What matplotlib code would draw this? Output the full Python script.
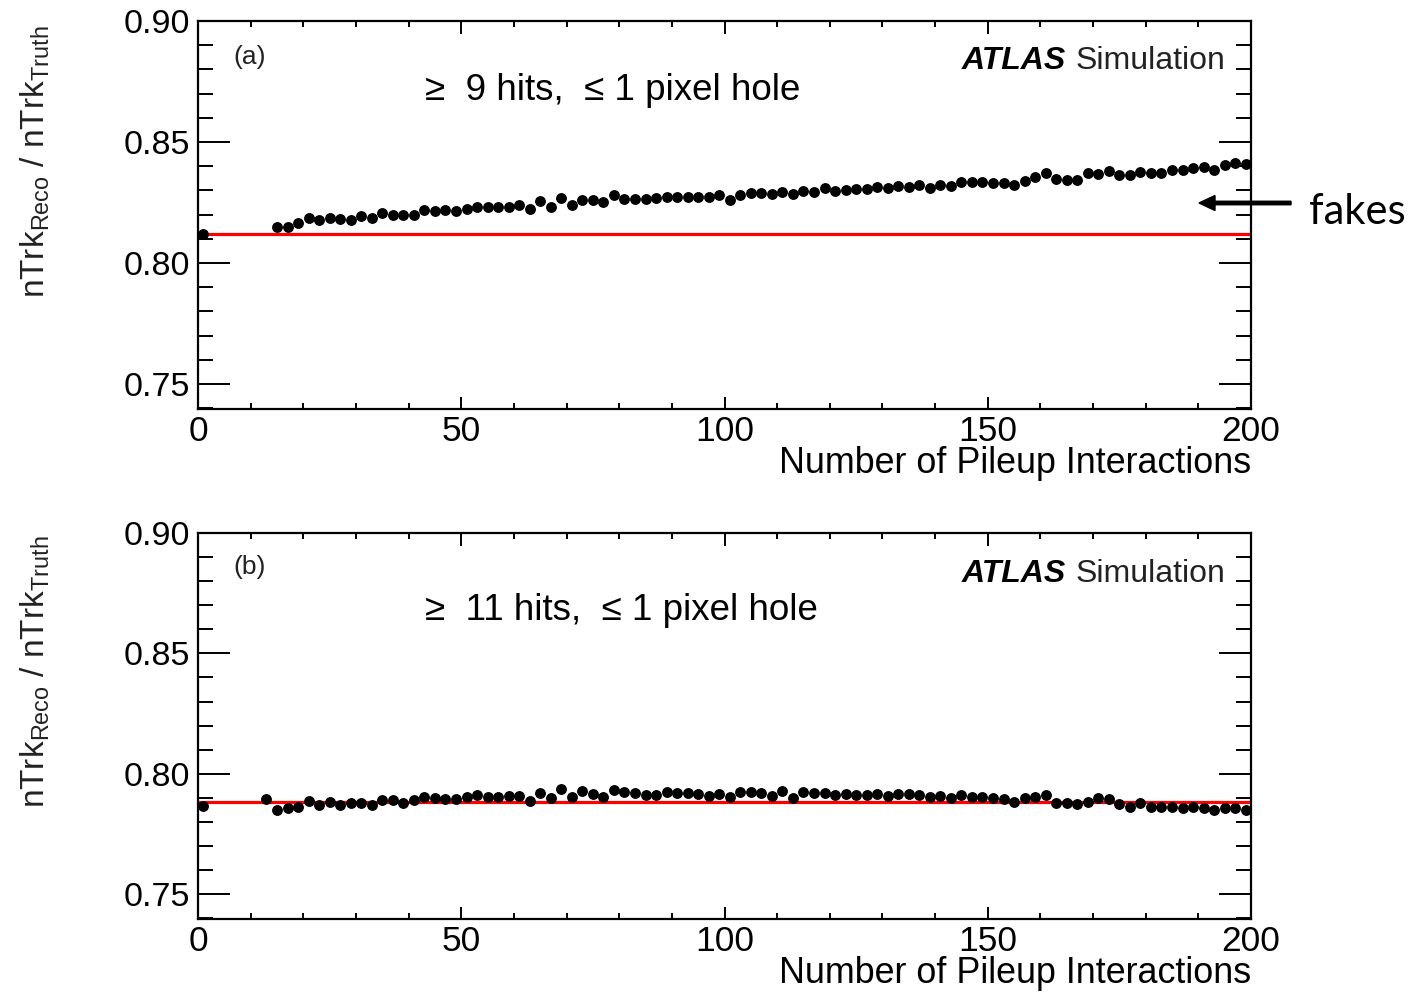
import numpy as np
import matplotlib
matplotlib.use("Agg")
import matplotlib.pyplot as plt
from matplotlib.patches import FancyArrow
from matplotlib.ticker import MultipleLocator

plt.rcParams["font.family"] = ["Liberation Sans", "DejaVu Sans"]

# ratio of reconstructed to truth tracks vs. pileup (bin centres)
mu_bins = np.arange(15, 200, 2)

ratio_9hits_first = [0.8121]
mu_9hits_first = [1]
ratio_9hits = [
    0.8148, 0.8148, 0.8164, 0.8185, 0.8178, 0.8185, 0.8183, 0.8178, 0.8195, 0.8188,
    0.8205, 0.8199, 0.8199, 0.8199, 0.8218, 0.8214, 0.8221, 0.8214, 0.8225, 0.8233,
    0.8233, 0.8233, 0.8233, 0.8238, 0.8224, 0.8257, 0.8233, 0.8267, 0.8240, 0.8262,
    0.8261, 0.8253, 0.8280, 0.8264, 0.8264, 0.8264, 0.8267, 0.8272, 0.8272, 0.8272,
    0.8272, 0.8272, 0.8280, 0.8262, 0.8280, 0.8291, 0.8291, 0.8286, 0.8295, 0.8286,
    0.8298, 0.8295, 0.8311, 0.8298, 0.8302, 0.8305, 0.8306, 0.8315, 0.8311, 0.8317,
    0.8315, 0.8322, 0.8311, 0.8322, 0.8317, 0.8335, 0.8335, 0.8335, 0.8331, 0.8331,
    0.8324, 0.8341, 0.8356, 0.8371, 0.8348, 0.8345, 0.8345, 0.8370, 0.8368, 0.8381,
    0.8363, 0.8363, 0.8377, 0.8371, 0.8371, 0.8384, 0.8385, 0.8391, 0.8397, 0.8385,
    0.8406, 0.8413, 0.8408,
]

mu_11hits_first = [1, 13]
ratio_11hits_first = [0.7866, 0.7897]
ratio_11hits = [
    0.7848, 0.7858, 0.7861, 0.7887, 0.7872, 0.7883, 0.7872, 0.7879, 0.7879, 0.7872,
    0.7890, 0.7893, 0.7879, 0.7890, 0.7904, 0.7899, 0.7897, 0.7897, 0.7904, 0.7910,
    0.7904, 0.7904, 0.7906, 0.7906, 0.7886, 0.7921, 0.7899, 0.7935, 0.7904, 0.7928,
    0.7916, 0.7904, 0.7931, 0.7924, 0.7919, 0.7913, 0.7910, 0.7923, 0.7920, 0.7920,
    0.7915, 0.7909, 0.7916, 0.7902, 0.7923, 0.7924, 0.7920, 0.7909, 0.7927, 0.7901,
    0.7923, 0.7920, 0.7920, 0.7910, 0.7917, 0.7910, 0.7910, 0.7917, 0.7909, 0.7917,
    0.7915, 0.7910, 0.7904, 0.7908, 0.7901, 0.7913, 0.7904, 0.7904, 0.7901, 0.7897,
    0.7883, 0.7901, 0.7902, 0.7913, 0.7879, 0.7879, 0.7873, 0.7883, 0.7899, 0.7897,
    0.7876, 0.7862, 0.7880, 0.7864, 0.7862, 0.7862, 0.7858, 0.7862, 0.7860, 0.7848,
    0.7858, 0.7858, 0.7851,
]

# no-pileup reference levels
ref_9hits = 0.8121
ref_11hits = 0.7881

panels = [
    ("(a)", "\u2265  9 hits,  \u2264 1 pixel hole",
     mu_9hits_first, ratio_9hits_first, ratio_9hits, ref_9hits),
    ("(b)", "\u2265  11 hits,  \u2264 1 pixel hole",
     mu_11hits_first, ratio_11hits_first, ratio_11hits, ref_11hits),
]

W, H = 1421, 997
fig = plt.figure(figsize=(W / 100, H / 100), dpi=100)

ax_boxes = [(198, 21, 1251, 409), (198, 533, 1251, 919)]
ylabel_centres = [162, 672]
# vertical placement (axes fraction) of tag, cut text and ATLAS label
text_y = [(0.907, 0.822, 0.897), (0.912, 0.800, 0.893)]

for (tag, cut, mu0, r0, r, ref), box, ylc, (ty_tag, ty_cut, ty_atl) in zip(
        panels, ax_boxes, ylabel_centres, text_y):
    x0, y0, x1, y1 = box
    ax = fig.add_axes([x0 / W, 1 - y1 / H, (x1 - x0) / W, (y1 - y0) / H])

    ax.axhline(ref, color="#ff0000", lw=2.3, zorder=2)
    ax.plot(list(mu0) + list(mu_bins), list(r0) + list(r), "o", color="black",
            ms=6.8, mec="black", zorder=3, clip_on=False)

    ax.set_xlim(0, 200)
    ax.set_ylim(0.7397, 0.90)
    ax.xaxis.set_major_locator(MultipleLocator(50))
    ax.xaxis.set_minor_locator(MultipleLocator(10))
    ax.yaxis.set_major_locator(MultipleLocator(0.05))
    ax.yaxis.set_minor_locator(MultipleLocator(0.01))
    ax.yaxis.set_major_formatter(plt.FormatStrFormatter("%.2f"))

    ax.tick_params(axis="both", which="both", direction="in", top=True, right=True,
                   color="black", width=1.4)
    ax.tick_params(axis="y", which="major", length=23, labelsize=24.5, pad=6)
    ax.tick_params(axis="y", which="minor", length=11)
    ax.tick_params(axis="x", which="major", length=9, labelsize=25.5, pad=4)
    ax.tick_params(axis="x", which="minor", length=4.5)
    for sp in ax.spines.values():
        sp.set_linewidth(1.6)

    ax.set_xlabel("Number of Pileup Interactions", fontsize=25.8, loc="right",
                  labelpad=-1)

    ax.text(0.0332, ty_tag, tag, transform=ax.transAxes, fontsize=19,
            ha="left", va="center", color="#222222")
    ax.text(0.2156, ty_cut, cut, transform=ax.transAxes, fontsize=26.5,
            ha="left", va="center")
    ax.text(0.8243, ty_atl, "ATLAS", transform=ax.transAxes, fontsize=23,
            fontweight="bold", fontstyle="italic", ha="right", va="center")
    ax.text(0.8338, ty_atl, "Simulation", transform=ax.transAxes, fontsize=23,
            ha="left", va="center", color="#222222")

    fig.text(35 / W, 1 - ylc / H,
             r"nTrk$_{\mathregular{Reco}}$ / nTrk$_{\mathregular{Truth}}$",
             rotation=90, fontsize=24, ha="center", va="center", color="#222222")

# annotation for the fake-track contribution
fig.patches.append(FancyArrow(
    1291 / W, 1 - 203 / H, -92 / W, 0, width=3.5 / H, head_width=15 / H,
    head_length=16 / W, length_includes_head=True, color="black",
    transform=fig.transFigure, figure=fig))
fig.text(1309 / W, 1 - 212 / H, "fakes", fontsize=30, family=["Lato", "DejaVu Sans"],
         ha="left", va="center")

fig.savefig("out.png", dpi=100)
